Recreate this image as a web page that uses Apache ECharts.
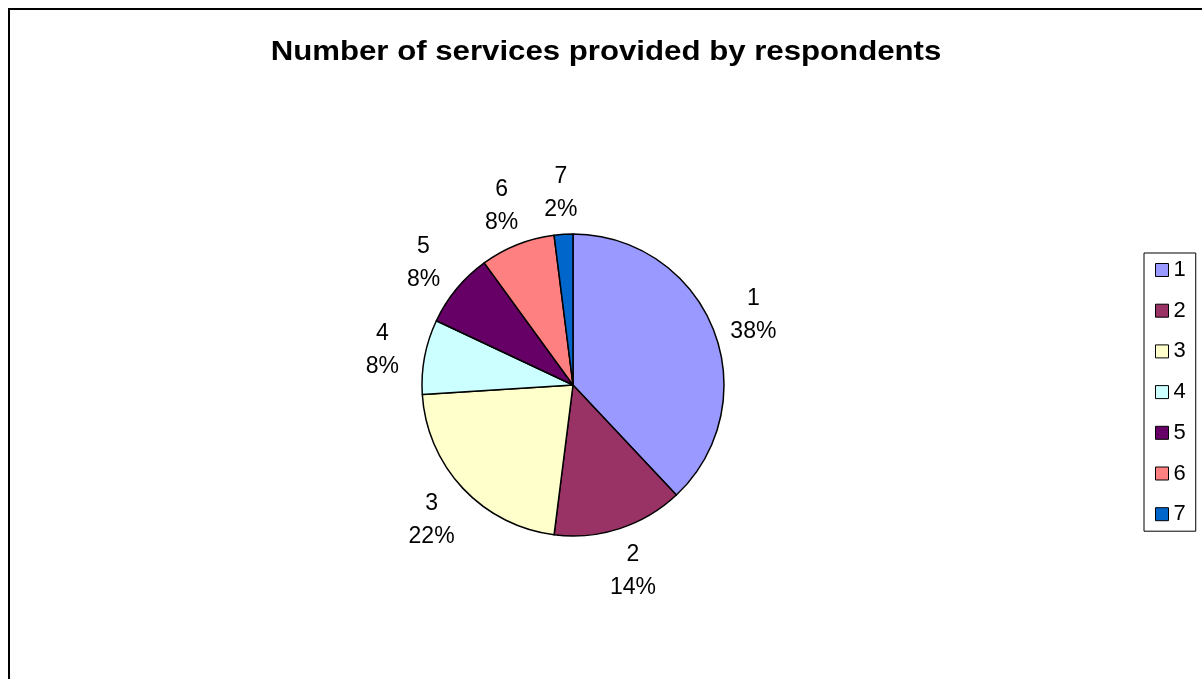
<!DOCTYPE html>
<html>
<head>
<meta charset="utf-8">
<script src="https://cdn.jsdelivr.net/npm/echarts@6/dist/echarts.min.js"></script>
<style>
html,body{margin:0;padding:0;background:#fff;}
#chart{width:1202px;height:679px;}
</style>
</head>
<body>
<div id="chart"></div>
<script>
const titleText = 'Number of services provided by respondents';
const categories = ['1', '2', '3', '4', '5', '6', '7'];
const counts = [19, 7, 11, 4, 4, 4, 1];
const colors = ['#9999FF', '#993366', '#FFFFCC', '#CCFFFF', '#660066', '#FF8080', '#0066CC'];

const font = '"Liberation Sans", Arial, sans-serif';
const pieData = categories.map((c, i) => ({ name: c, value: counts[i], itemStyle: { color: colors[i] } }));
const labelData = categories.map((c, i) => ({ name: c, value: counts[i] }));

const chart = echarts.init(document.getElementById('chart'), null, { renderer: 'canvas' });
chart.setOption({
  animation: false,
  backgroundColor: '#fff',
  graphic: [
    {
      type: 'rect',
      shape: { x: 9, y: 9, width: 1400, height: 900 },
      style: { fill: 'none', stroke: '#000', lineWidth: 2 },
      silent: true, z: 100
    },
    {
      type: 'text',
      x: 606,
      y: 53,
      scaleX: 1.155,
      silent: true,
      style: {
        text: titleText,
        x: 0, y: 0,
        align: 'center',
        verticalAlign: 'middle',
        font: 'bold 27px "Liberation Sans", Arial, sans-serif',
        fill: '#000'
      }
    }
  ],
  legend: {
    orient: 'vertical',
    left: 1144,
    top: 253,
    padding: [6, 10, 6, 11],
    itemWidth: 13,
    itemHeight: 13,
    itemGap: 18.7,
    icon: 'rect',
    borderColor: '#000',
    borderWidth: 1,
    data: categories,
    itemStyle: { borderColor: '#000', borderWidth: 1 },
    textStyle: { fontFamily: font, fontSize: 22, color: '#000' }
  },
  series: [
    {
      type: 'pie',
      center: [573, 385],
      radius: [0, 151],
      startAngle: 90,
      clockwise: true,
      data: pieData,
      label: { show: false },
      labelLine: { show: false },
      itemStyle: { borderColor: '#000', borderWidth: 1.5 },
      emphasis: { disabled: true }
    },
    {
      type: 'pie',
      center: [573, 387],
      radius: [151, 231],
      startAngle: 90,
      clockwise: true,
      silent: true,
      data: labelData,
      itemStyle: { color: 'rgba(0,0,0,0)', opacity: 0 },
      label: {
        show: true,
        position: 'inside',
        formatter: '{b}\n{d}%',
        fontFamily: font,
        fontSize: 23,
        lineHeight: 33,
        color: '#000',
        opacity: 1
      },
      labelLine: { show: false },
      emphasis: { disabled: true }
    }
  ]
});
</script>
</body>
</html>
